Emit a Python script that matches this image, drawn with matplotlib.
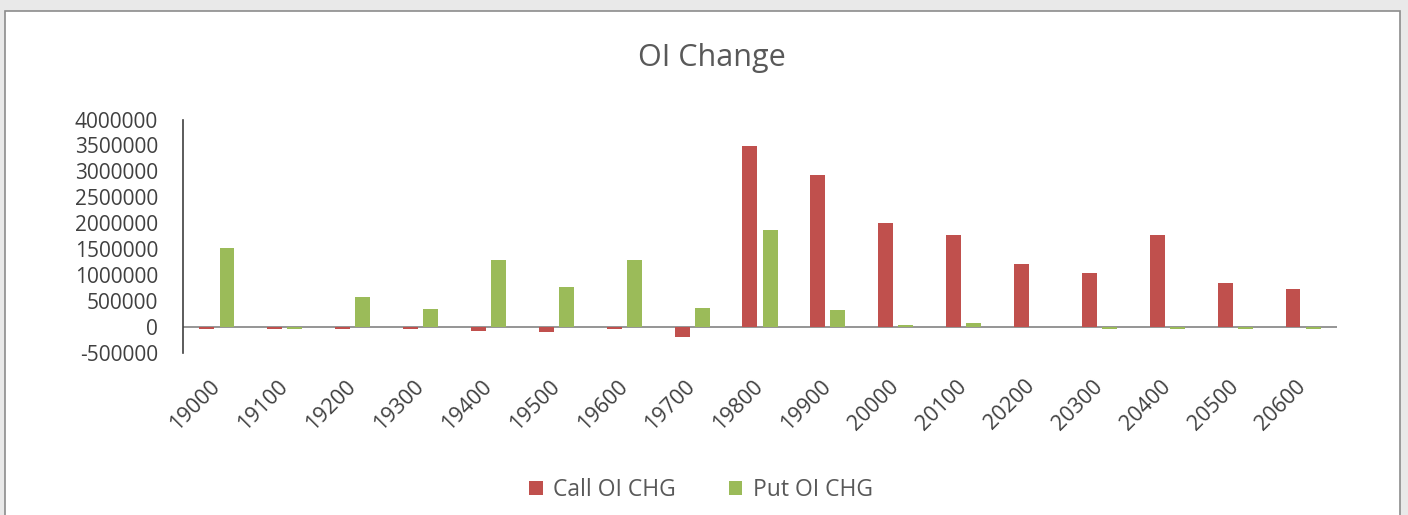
import numpy as np
import matplotlib.pyplot as plt
from matplotlib.patches import Rectangle

# strikes and open interest change
strikes = ["19000", "19100", "19200", "19300", "19400", "19500", "19600", "19700", "19800",
           "19900", "20000", "20100", "20200", "20300", "20400", "20500", "20600"]
call_oi_chg = [-40000, -40000, -40000, -40000, -78000, -110000, -40000, -205000, 3480000,
               2920000, 1995000, 1776000, 1216000, 1030000, 1776000, 850000, 720000]
put_oi_chg = [1525000, -40000, 568000, 348000, 1280000, 760000, 1280000, 354000, 1870000,
              322000, 25000, 77000, 0, -40000, -40000, -40000, -40000]

RED = "#C0504D"
GREEN = "#9BBB59"
TXT = "#595959"
TICK = "#404040"

plt.rcParams['font.family'] = ['Open Sans', 'DejaVu Sans']

fig = plt.figure(figsize=(14.08, 5.15), dpi=100)
fig.patch.set_facecolor("#e9e9e9")

# white chart box
W, H = 1408, 515
box = Rectangle((5 / W, -0.01), (1400 - 5) / W, 1.01 - 11 / H, transform=fig.transFigure,
                facecolor="white", edgecolor="#8c8c8c", linewidth=1.2, zorder=-10)
fig.patches.append(box)

ax = fig.add_axes([183 / W, 1 - 352.6 / H, (1337 - 183) / W, (352.6 - 119.5) / H])
ax.set_facecolor("none")
ax.set_zorder(2)

x = np.arange(len(strikes))
w = 0.22
ax.axhline(0, color="#8c8c8c", linewidth=1.3, zorder=1)
ax.bar(x - 0.148, call_oi_chg, w, color=RED, label="Call OI CHG", zorder=2)
ax.bar(x + 0.148, put_oi_chg, w, color=GREEN, label="Put OI CHG", zorder=2)

ax.set_xlim(-0.5, len(strikes) - 0.5)
ax.set_ylim(-500000, 4000000)
ax.set_yticks(np.arange(-500000, 4000001, 500000))
ax.set_yticklabels([str(v) for v in range(-500000, 4000001, 500000)])

ax.set_xticks(x)
ax.set_xticklabels(strikes, rotation=45, ha="right", va="center", rotation_mode="anchor")

for s in ["top", "right", "bottom"]:
    ax.spines[s].set_visible(False)
ax.spines["left"].set_color("#404040")
ax.spines["left"].set_linewidth(1.2)
ax.tick_params(axis="both", length=0, colors=TICK)
ax.tick_params(axis="y", pad=18, labelsize=15)
ax.tick_params(axis="x", pad=22, labelsize=15.5)

fig.text(712 / W, 1 - 58 / H, "OI Change", ha="center", va="center", fontsize=22, color=TXT)

fig.legend(loc="center", bbox_to_anchor=(701 / W, 1 - 490 / H), ncol=2, frameon=False,
           fontsize=16.5, handlelength=0.6, handleheight=0.6, handletextpad=0.45,
           columnspacing=2.3, labelcolor=TXT)

fig.savefig("out.png", dpi=100, facecolor=fig.get_facecolor())
